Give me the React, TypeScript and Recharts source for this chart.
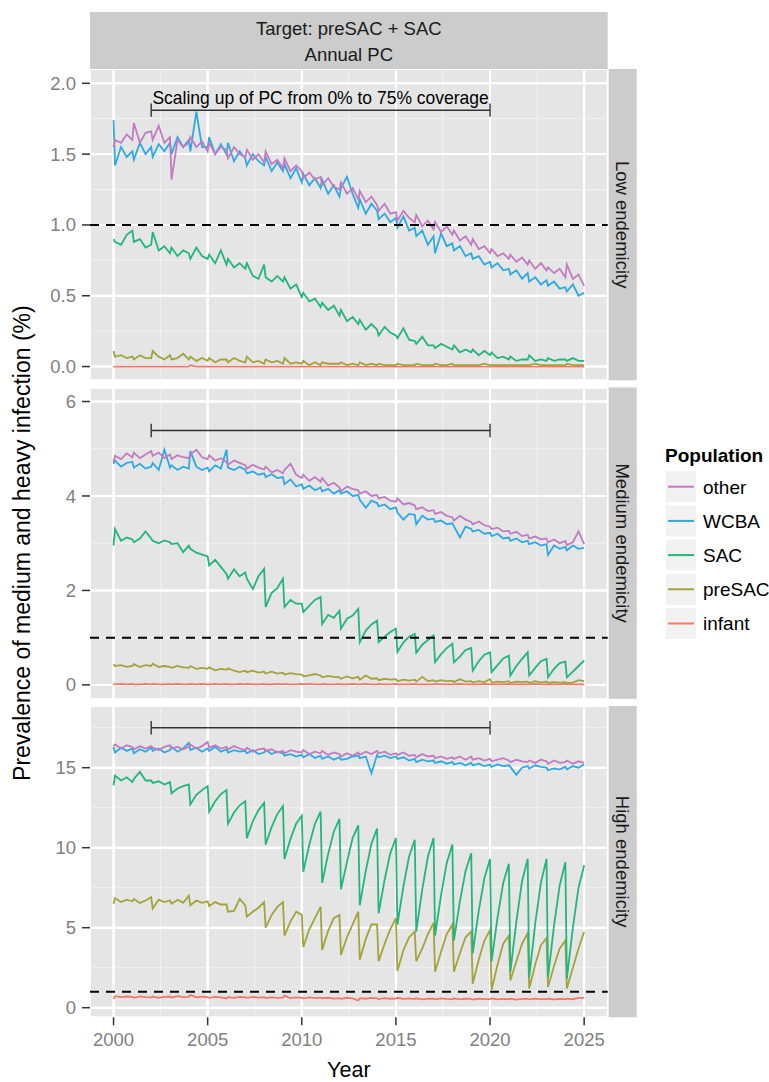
import { CartesianGrid, Line, LineChart, ReferenceLine, XAxis, YAxis } from 'recharts'

// sampling positions within each simulated year (PC round happens at the year boundary)
const YEARS = [
  2000, 2001, 2002, 2003, 2004, 2005, 2006, 2007, 2008, 2009, 2010, 2011, 2012,
  2013, 2014, 2015, 2016, 2017, 2018, 2019, 2020, 2021, 2022, 2023, 2024,
]
const OFFSETS = [0, 0.08, 0.4, 0.7]
const LAST_YEAR = 2025
const TIMES = [
  ...YEARS.flatMap((y) => OFFSETS.map((o) => Math.round((y + o) * 100) / 100)),
  LAST_YEAR,
]

const X_TICKS = [2000, 2005, 2010, 2015, 2020, 2025]
const X_MINOR = [2002.5, 2007.5, 2012.5, 2017.5, 2022.5]
const SCALE_UP = [2002, 2020]
const SCALE_UP_LABEL = 'Scaling up of PC from 0% to 75% coverage'
const THRESHOLD = 1

const POPULATIONS = ['other', 'WCBA', 'SAC', 'preSAC', 'infant']
const DRAW_ORDER = ['infant', 'preSAC', 'SAC', 'WCBA', 'other']
const COLORS: Record<string, string> = {
  other: '#C27BC0',
  WCBA: '#2DAAE1',
  SAC: '#22B67A',
  preSAC: '#A3A33B',
  infant: '#F5786D',
}

// ---- Low endemicity ----
const LOW_OTHER = [
  1.55, 1.6, 1.58, 1.64, 1.6, 1.72, 1.58, 1.65,
  1.66, 1.6, 1.7, 1.58, 1.62, 1.32, 1.6, 1.55,
  1.58, 1.62, 1.55, 1.59, 1.52, 1.58, 1.5, 1.55,
  1.53, 1.47, 1.55, 1.5, 1.48, 1.53, 1.46, 1.5,
  1.44, 1.52, 1.43, 1.46, 1.4, 1.47, 1.38, 1.42,
  1.38, 1.33, 1.37, 1.32, 1.34, 1.28, 1.33, 1.27,
  1.25, 1.3, 1.22, 1.26, 1.18, 1.24, 1.16, 1.2,
  1.14, 1.1, 1.15, 1.08, 1.09, 1.03, 1.1, 1.05,
  1.02, 1.07, 0.99, 1.03, 0.97, 1.02, 0.95, 0.99,
  0.93, 0.96, 0.89, 0.92, 0.86, 0.9, 0.83, 0.85,
  0.8, 0.83, 0.78, 0.8, 0.76, 0.79, 0.74, 0.77,
  0.72, 0.75, 0.69, 0.73, 0.68, 0.7, 0.66, 0.69,
  0.63, 0.72, 0.62, 0.65, 0.57,
]
const LOW_WCBA = [
  1.74, 1.42, 1.55, 1.48, 1.52, 1.46, 1.58, 1.5,
  1.55, 1.48, 1.57, 1.52, 1.58, 1.5, 1.62, 1.55,
  1.6, 1.52, 1.8, 1.55, 1.55, 1.62, 1.5, 1.57,
  1.5, 1.58, 1.45, 1.52, 1.47, 1.42, 1.5, 1.45,
  1.42, 1.48, 1.38, 1.44, 1.38, 1.43, 1.33, 1.4,
  1.3, 1.36, 1.28, 1.33, 1.26, 1.32, 1.22, 1.28,
  1.2, 1.26, 1.34, 1.22, 1.12, 1.18, 1.08, 1.15,
  1.1, 1.04, 1.08, 1.02, 1.05, 0.98, 1.06, 0.96,
  0.98, 0.92, 0.96, 0.86, 0.92, 0.8, 0.94, 0.85,
  0.87, 0.82, 0.85, 0.78, 0.8, 0.76, 0.78, 0.72,
  0.74, 0.7, 0.73, 0.68, 0.69, 0.65, 0.68, 0.62,
  0.66, 0.6, 0.63, 0.58, 0.61, 0.57, 0.6, 0.55,
  0.56, 0.53, 0.58, 0.5, 0.52,
]
const LOW_SAC = [
  0.9, 0.88, 0.86, 0.93, 0.96, 0.88, 0.9, 0.84,
  0.86, 0.95, 0.82, 0.85, 0.8, 0.84, 0.78, 0.82,
  0.8, 0.76, 0.84, 0.78, 0.76, 0.79, 0.73, 0.82,
  0.72, 0.76, 0.7, 0.73, 0.69, 0.73, 0.64, 0.62,
  0.72, 0.63, 0.6, 0.64, 0.6, 0.63, 0.55, 0.58,
  0.49, 0.52, 0.46, 0.48, 0.42, 0.45, 0.4, 0.43,
  0.36, 0.4, 0.32, 0.35, 0.3, 0.33, 0.26, 0.3,
  0.26, 0.22, 0.28, 0.24, 0.22, 0.2, 0.27, 0.19,
  0.18, 0.16, 0.21, 0.15, 0.15, 0.13, 0.16, 0.14,
  0.12, 0.15, 0.1, 0.12, 0.1, 0.12, 0.08, 0.11,
  0.08, 0.1, 0.06, 0.07, 0.05, 0.07, 0.04, 0.05,
  0.05, 0.08, 0.04, 0.05, 0.04, 0.06, 0.04, 0.05,
  0.05, 0.04, 0.06, 0.04, 0.04,
]
const LOW_PRESAC = [
  0.11, 0.07, 0.08, 0.06, 0.07, 0.05, 0.08, 0.06,
  0.06, 0.11, 0.07, 0.05, 0.08, 0.05, 0.06, 0.09,
  0.05, 0.07, 0.04, 0.06, 0.04, 0.06, 0.03, 0.05,
  0.05, 0.03, 0.06, 0.04, 0.03, 0.07, 0.03, 0.04,
  0.02, 0.05, 0.03, 0.04, 0.02, 0.06, 0.02, 0.03,
  0.02, 0.04, 0.01, 0.03, 0.01, 0.03, 0.02, 0.02,
  0.02, 0.03, 0.01, 0.02, 0.01, 0.03, 0.01, 0.02,
  0.01, 0.02, 0.01, 0.01, 0.01, 0.02, 0.01, 0.01,
  0.01, 0.02, 0.01, 0.01, 0.01, 0.02, 0.01, 0.01,
  0.02, 0.01, 0.01, 0.01, 0.01, 0.01, 0.01, 0.02,
  0.01, 0.01, 0.01, 0.01, 0.01, 0.01, 0.01, 0.01,
  0.01, 0.01, 0.02, 0.01, 0.01, 0.01, 0.01, 0.01,
  0.01, 0.02, 0.01, 0.01, 0.01,
]
const LOW_INFANT = [
  0, 0, 0, 0, 0, 0, 0, 0, 0, 0, 0, 0, 0, 0, 0, 0,
  0, 0.01, 0, 0, 0, 0, 0, 0, 0, 0, 0, 0, 0, 0, 0, 0,
  0, 0, 0, 0, 0, 0, 0, 0, 0, 0, 0, 0, 0, 0, 0, 0,
  0, 0, 0, 0, 0, 0, 0, 0, 0, 0, 0, 0, 0, 0, 0, 0,
  0, 0, 0, 0, 0, 0, 0, 0, 0, 0, 0, 0, 0, 0, 0, 0,
  0, 0, 0, 0, 0, 0, 0, 0, 0, 0, 0, 0, 0, 0, 0, 0,
  0, 0, 0, 0, 0,
]

// ---- Medium endemicity ----
const MED_OTHER = [
  4.72, 4.85, 4.78, 4.9, 4.82, 4.92, 4.8, 4.88,
  4.95, 4.85, 4.92, 4.8, 4.88, 4.78, 4.86, 4.82,
  4.8, 4.88, 4.98, 4.82, 4.78, 4.86, 4.75, 4.8,
  4.72, 4.66, 4.75, 4.7, 4.65, 4.58, 4.66, 4.6,
  4.56, 4.62, 4.5, 4.55, 4.48, 4.55, 4.68, 4.45,
  4.38, 4.45, 4.32, 4.4, 4.3, 4.38, 4.22, 4.28,
  4.18, 4.1, 4.2, 4.15, 4.12, 4.05, 4.1, 4.0,
  4.02, 3.95, 3.98, 3.9, 3.88, 3.95, 3.82, 3.85,
  3.8, 3.72, 3.76, 3.68, 3.7, 3.62, 3.66, 3.58,
  3.55, 3.48, 3.58, 3.5, 3.45, 3.4, 3.46, 3.38,
  3.35, 3.3, 3.33, 3.25, 3.26, 3.2, 3.24, 3.15,
  3.18, 3.1, 3.14, 3.08, 3.1, 3.02, 3.08, 3.0,
  3.05, 2.96, 3.02, 3.25, 2.98,
]
const MED_WCBA = [
  4.68, 4.75, 4.62, 4.7, 4.72, 4.6, 4.68, 4.58,
  4.62, 4.7, 4.55, 4.98, 4.6, 4.65, 4.55, 4.62,
  4.58, 4.95, 4.62, 4.55, 4.6, 4.52, 4.65, 4.58,
  4.98, 4.6, 4.55, 4.62, 4.55, 4.48, 4.52, 4.45,
  4.48, 4.4, 4.46, 4.38, 4.4, 4.25, 4.35, 4.2,
  4.25, 4.15, 4.22, 4.12, 4.18, 4.1, 4.15, 4.05,
  4.12, 4.05, 4.1, 4.0, 4.02, 3.92, 3.75, 3.9,
  3.85, 3.78, 3.82, 3.72, 3.76, 3.65, 3.5, 3.62,
  3.6, 3.4, 3.58, 3.5, 3.52, 3.45, 3.48, 3.4,
  3.42, 3.36, 3.12, 3.35, 3.3, 3.25, 3.28, 3.2,
  3.22, 3.15, 3.2, 3.1, 3.12, 3.05, 3.1, 3.02,
  3.05, 2.98, 3.02, 2.95, 2.98, 2.75, 2.95, 2.88,
  2.92, 2.85, 2.95, 2.88, 2.9,
]
const MED_SAC = [
  2.95, 3.3, 3.05, 3.12, 3.08, 3.02, 3.1, 3.25,
  3.1, 3.05, 3.0, 3.06, 3.02, 2.98, 3.0, 2.81,
  2.95, 2.88, 2.8, 2.76, 2.72, 2.53, 2.65, 2.5,
  2.35, 2.25, 2.45, 2.3, 2.38, 2.25, 2.03, 2.3,
  2.46, 1.65, 1.95, 2.05, 2.25, 1.65, 1.8, 1.72,
  1.72, 1.54, 1.68, 1.8, 1.86, 1.29, 1.48, 1.42,
  1.57, 1.19, 1.4, 1.47, 1.61, 0.9, 1.15, 1.28,
  1.36, 0.9, 1.02, 1.12, 1.19, 0.7, 0.9, 1.02,
  1.08, 0.68, 0.85, 0.95, 1.05, 0.48, 0.65, 0.78,
  0.87, 0.48, 0.6, 0.74, 0.78, 0.3, 0.5, 0.64,
  0.69, 0.27, 0.42, 0.56, 0.62, 0.2, 0.4, 0.55,
  0.69, 0.2, 0.36, 0.5, 0.55, 0.16, 0.34, 0.46,
  0.49, 0.16, 0.28, 0.4, 0.52,
]
const MED_PRESAC = [
  0.44, 0.4, 0.42, 0.38, 0.4, 0.44, 0.38, 0.42,
  0.4, 0.45, 0.38, 0.4, 0.38, 0.36, 0.4, 0.37,
  0.36, 0.4, 0.34, 0.36, 0.34, 0.37, 0.31, 0.34,
  0.32, 0.35, 0.3, 0.27, 0.3, 0.27, 0.3, 0.26,
  0.28, 0.24, 0.28, 0.24, 0.26, 0.22, 0.25, 0.23,
  0.22, 0.18, 0.2, 0.23, 0.2, 0.16, 0.19, 0.17,
  0.16, 0.13, 0.18, 0.14, 0.17, 0.11, 0.2, 0.13,
  0.14, 0.1, 0.13, 0.11, 0.12, 0.08, 0.11, 0.09,
  0.11, 0.07, 0.17, 0.08, 0.1, 0.07, 0.1, 0.08,
  0.09, 0.06, 0.12, 0.07, 0.08, 0.05, 0.08, 0.06,
  0.12, 0.05, 0.07, 0.06, 0.08, 0.04, 0.07, 0.06,
  0.07, 0.04, 0.08, 0.05, 0.07, 0.04, 0.06, 0.05,
  0.06, 0.04, 0.05, 0.1, 0.08,
]
const MED_INFANT = [
  0.02, 0.01, 0.02, 0.01, 0.02, 0.01, 0.01, 0.02,
  0.01, 0.02, 0.01, 0.01, 0.02, 0.01, 0.02, 0.01,
  0.01, 0.02, 0.01, 0.02, 0.01, 0.01, 0.02, 0.01,
  0.02, 0.01, 0.01, 0.02, 0.01, 0.02, 0.01, 0.01,
  0.02, 0.01, 0.01, 0.02, 0.01, 0.02, 0.01, 0.01,
  0.02, 0.01, 0.02, 0.01, 0.01, 0.02, 0.01, 0.01,
  0.02, 0.01, 0.01, 0.02, 0.01, 0.01, 0.02, 0.01,
  0.01, 0.02, 0.01, 0.01, 0.02, 0.01, 0.01, 0.01,
  0.02, 0.01, 0.01, 0.01, 0.01, 0.02, 0.01, 0.01,
  0.01, 0.01, 0.02, 0.01, 0.01, 0.01, 0.01, 0.02,
  0.01, 0.01, 0.01, 0.01, 0.02, 0.01, 0.01, 0.01,
  0.01, 0.01, 0.02, 0.01, 0.01, 0.01, 0.01, 0.01,
  0.02, 0.01, 0.01, 0.01, 0.01,
]

// ---- High endemicity ----
const HIGH_OTHER = [
  16.35, 16.45, 16.2, 16.4, 16.3, 16.15, 16.35, 16.2,
  16.35, 16.25, 16.1, 16.3, 16.4, 16.2, 16.3, 16.15,
  16.3, 16.45, 16.2, 16.35, 16.6, 16.25, 16.4, 16.2,
  16.3, 16.15, 16.35, 16.2, 16.1, 16.25, 16.0, 16.15,
  16.2, 16.05, 16.15, 15.95, 16.05, 15.9, 16.1, 16.0,
  15.95, 16.1, 15.85, 16.0, 15.9, 16.05, 15.8, 15.95,
  15.85, 15.7, 15.9, 15.75, 15.95, 15.8, 16.0, 15.85,
  16.05, 15.9, 16.0, 15.8, 15.9, 15.8, 15.95, 15.75,
  15.8, 15.65, 15.85, 15.7, 15.75, 15.6, 15.7, 15.55,
  15.65, 15.55, 15.7, 15.5, 15.7, 15.5, 15.6, 15.45,
  15.55, 15.4, 15.5, 15.6, 15.45, 15.35, 15.5, 15.4,
  15.35, 15.45, 15.3, 15.5, 15.4, 15.25, 15.45, 15.3,
  15.35, 15.45, 15.25, 15.4, 15.3,
]
const HIGH_WCBA = [
  16.3, 15.95, 16.25, 16.05, 16.2, 15.9, 16.15, 16.0,
  16.25, 16.05, 16.2, 15.95, 16.1, 16.3, 16.0, 16.2,
  16.55, 16.1, 16.25, 16.0, 16.2, 16.05, 16.3, 16.0,
  16.15, 15.95, 16.1, 16.0, 16.05, 15.9, 16.1, 15.85,
  15.95, 16.1, 15.85, 16.0, 15.9, 15.75, 15.85, 15.7,
  15.8, 15.65, 15.85, 15.6, 15.75, 15.55, 15.7, 15.5,
  15.65, 15.5, 15.55, 15.7, 15.75, 15.6, 15.7, 14.65,
  15.8, 15.65, 15.75, 15.6, 15.7, 15.55, 15.65, 15.45,
  15.55, 15.35, 15.5, 15.4, 15.45, 15.3, 15.4, 15.25,
  15.35, 15.2, 15.3, 15.15, 15.3, 15.15, 15.25, 15.1,
  15.2, 15.05, 15.2, 15.1, 15.15, 15.05, 14.55, 15.0,
  15.1, 14.95, 15.15, 15.05, 15.0, 14.85, 14.95, 14.9,
  15.05, 14.9, 15.1, 15.0, 15.2,
]
const HIGH_SAC = [
  13.9, 14.5, 14.2, 14.4, 14.1, 14.3, 14.75, 14.2,
  14.2, 14.05, 14.15, 13.95, 14.1, 13.4, 13.7, 13.85,
  13.95, 12.7, 13.3, 13.6, 13.85, 12.25, 12.9, 13.35,
  13.6, 11.5, 12.2, 12.65, 12.9, 10.6, 11.65, 12.35,
  12.8, 10.2, 11.3, 12.1, 12.6, 9.3, 10.55, 11.5,
  12.0, 8.5, 10.2, 11.5, 12.25, 7.8, 9.6, 11.0,
  11.8, 7.4, 9.1, 10.6, 11.4, 6.4, 8.55, 10.25,
  11.2, 5.9, 8.0, 9.65, 10.6, 5.2, 7.6, 9.45,
  10.5, 4.75, 7.4, 9.45, 10.6, 4.5, 7.05, 9.05,
  10.2, 4.2, 6.65, 8.55, 9.65, 3.4, 6.05, 8.1,
  9.3, 2.9, 5.65, 7.8, 9.0, 2.25, 5.4, 7.9,
  9.3, 1.9, 5.25, 7.8, 9.3, 1.9, 5.15, 7.65,
  9.1, 1.8, 5.0, 7.5, 8.9,
]
const HIGH_PRESAC = [
  6.5, 6.85, 6.6, 6.75, 6.65, 6.8, 6.55, 6.7,
  6.9, 6.2, 6.75, 6.6, 6.7, 6.5, 6.75, 6.55,
  7.0, 6.4, 6.7, 6.55, 6.65, 6.35, 6.6, 6.45,
  6.45, 6.0, 6.05, 6.8, 6.4, 5.7, 6.0, 6.25,
  6.6, 5.0, 5.8, 6.3, 6.6, 4.5, 5.4, 6.0,
  5.8, 3.8, 4.9, 5.6, 6.3, 3.6, 4.8, 5.6,
  5.8, 3.3, 4.4, 5.2, 6.0, 3.0, 4.3, 5.2,
  5.2, 2.9, 4.0, 4.9, 5.6, 2.3, 3.6, 4.4,
  4.75, 2.9, 3.7, 4.6, 5.3, 2.25, 3.5, 4.6,
  5.2, 2.25, 3.4, 4.4, 4.75, 1.5, 3.0, 4.2,
  4.85, 1.1, 2.7, 4.0, 4.5, 1.7, 2.9, 4.0,
  4.65, 1.2, 2.7, 3.9, 4.35, 1.3, 2.6, 3.7,
  4.2, 1.2, 2.5, 3.7, 4.75,
]
const HIGH_INFANT = [
  0.55, 0.72, 0.66, 0.7, 0.68, 0.62, 0.71, 0.66,
  0.64, 0.7, 0.62, 0.68, 0.7, 0.64, 0.72, 0.66,
  0.68, 0.8, 0.65, 0.69, 0.66, 0.62, 0.68, 0.64,
  0.58, 0.66, 0.62, 0.67, 0.65, 0.61, 0.68, 0.63,
  0.66, 0.6, 0.64, 0.62, 0.63, 0.75, 0.6, 0.65,
  0.62, 0.58, 0.64, 0.6, 0.63, 0.59, 0.62, 0.57,
  0.6, 0.55, 0.62, 0.58, 0.45, 0.6, 0.56, 0.61,
  0.58, 0.54, 0.6, 0.56, 0.57, 0.62, 0.55, 0.58,
  0.54, 0.59, 0.52, 0.57, 0.56, 0.52, 0.58, 0.55,
  0.53, 0.58, 0.52, 0.56, 0.55, 0.51, 0.57, 0.53,
  0.54, 0.58, 0.52, 0.55, 0.53, 0.56, 0.51, 0.55,
  0.55, 0.52, 0.57, 0.54, 0.53, 0.56, 0.52, 0.55,
  0.54, 0.57, 0.53, 0.62, 0.62,
]

// ---- layout (pixels) ----
const FONT = '"Liberation Sans", Arial, Helvetica, sans-serif'
const PLOT_LEFT = 90
const PLOT_RIGHT = 607.7
const PANEL_H = 311.3
const STRIP_W = 29

type Panel = {
  label: string
  top: number
  domain: [number, number]
  ticks: number[]
  minor: number[]
  digits: number
  barY: number
  cap: number
  series: Record<string, number[]>
}

const PANELS: Panel[] = [
  {
    label: 'Low endemicity',
    top: 69,
    domain: [-0.097, 2.101],
    ticks: [0, 0.5, 1, 1.5, 2],
    minor: [0.25, 0.75, 1.25, 1.75],
    digits: 1,
    barY: 1.81,
    cap: 0.047,
    series: { other: LOW_OTHER, WCBA: LOW_WCBA, SAC: LOW_SAC, preSAC: LOW_PRESAC, infant: LOW_INFANT },
  },
  {
    label: 'Medium endemicity',
    top: 387.5,
    domain: [-0.305, 6.286],
    ticks: [0, 2, 4, 6],
    minor: [1, 3, 5],
    digits: 0,
    barY: 5.385,
    cap: 0.142,
    series: { other: MED_OTHER, WCBA: MED_WCBA, SAC: MED_SAC, preSAC: MED_PRESAC, infant: MED_INFANT },
  },
  {
    label: 'High endemicity',
    top: 706,
    domain: [-0.6, 18.856],
    ticks: [0, 5, 10, 15],
    minor: [2.5, 7.5, 12.5, 17.5],
    digits: 0,
    barY: 17.5,
    cap: 0.42,
    series: { other: HIGH_OTHER, WCBA: HIGH_WCBA, SAC: HIGH_SAC, preSAC: HIGH_PRESAC, infant: HIGH_INFANT },
  },
]

const tickStyle = { fill: '#7F7F7F', fontSize: 18.5, fontFamily: FONT }

function PanelChart({ panel, showX, note }: { panel: Panel; showX: boolean; note: boolean }) {
  const rows = TIMES.map((t, i) => {
    const row: Record<string, number> = { t }
    POPULATIONS.forEach((p) => {
      row[p] = panel.series[p][i]
    })
    return row
  })
  const [x0, x1] = SCALE_UP

  return (
    <div style={{ position: 'absolute', left: 0, top: panel.top }}>
      <LineChart
        width={769}
        height={PANEL_H + (showX ? 58 : 0)}
        data={rows}
        margin={{ top: 0, right: 769 - PLOT_RIGHT, bottom: 0, left: 0 }}
      >
        <CartesianGrid fill="#E5E5E5" stroke="#FFFFFF" strokeWidth={2} />
        {X_MINOR.map((x) => (
          <ReferenceLine key={`xm${x}`} x={x} stroke="#F2F2F2" strokeWidth={1} zIndex={-90} />
        ))}
        {panel.minor.map((y) => (
          <ReferenceLine key={`ym${y}`} y={y} stroke="#F2F2F2" strokeWidth={1} zIndex={-90} />
        ))}
        {X_TICKS.map((x) => (
          <ReferenceLine key={`xM${x}`} x={x} stroke="#FFFFFF" strokeWidth={2} zIndex={-80} />
        ))}
        {panel.ticks.map((y) => (
          <ReferenceLine key={`yM${y}`} y={y} stroke="#FFFFFF" strokeWidth={2} zIndex={-80} />
        ))}
        <XAxis
          type="number"
          dataKey="t"
          scale="linear"
          domain={[1998.75, 2026.25]}
          allowDataOverflow
          ticks={X_TICKS}
          interval={0}
          hide={!showX}
          height={58}
          axisLine={false}
          tickLine={{ stroke: '#333333', strokeWidth: 1.5 }}
          tickSize={8}
          tickMargin={8}
          tick={tickStyle}
        />
        <YAxis
          type="number"
          scale="linear"
          domain={panel.domain}
          allowDataOverflow
          ticks={panel.ticks}
          interval={0}
          width={PLOT_LEFT}
          axisLine={false}
          tickLine={{ stroke: '#333333', strokeWidth: 1.5 }}
          tickSize={8}
          tickMargin={6}
          tick={tickStyle}
          tickFormatter={(v: number) => v.toFixed(panel.digits)}
        />
        {DRAW_ORDER.map((p) => (
          <Line
            key={p}
            type="linear"
            dataKey={p}
            stroke={COLORS[p]}
            strokeWidth={1.8}
            dot={false}
            activeDot={false}
            isAnimationActive={false}
          />
        ))}
        <ReferenceLine y={THRESHOLD} stroke="#000000" strokeWidth={2} strokeDasharray="9 7" />
        <ReferenceLine
          segment={[
            { x: x0, y: panel.barY },
            { x: x1, y: panel.barY },
          ]}
          stroke="#333333"
          strokeWidth={1.4}
          label={
            note
              ? {
                  value: SCALE_UP_LABEL,
                  position: 'top',
                  offset: 6,
                  fill: '#000000',
                  fontSize: 17.5,
                  fontFamily: FONT,
                }
              : undefined
          }
        />
        {SCALE_UP.map((x) => (
          <ReferenceLine
            key={`cap${x}`}
            segment={[
              { x, y: panel.barY - panel.cap },
              { x, y: panel.barY + panel.cap },
            ]}
            stroke="#333333"
            strokeWidth={1.4}
          />
        ))}
      </LineChart>
    </div>
  )
}

function Overlay() {
  const legendTop = 470.7
  const rowStep = 34.2
  return (
    <svg
      width={769}
      height={1082}
      style={{ position: 'absolute', left: 0, top: 0 }}
      fontFamily={FONT}
    >
      <rect x={PLOT_LEFT} y={12} width={PLOT_RIGHT - PLOT_LEFT} height={57} fill="#CCCCCC" />
      <text x={(PLOT_LEFT + PLOT_RIGHT) / 2} y={34.5} textAnchor="middle" fontSize={18.5} fill="#1A1A1A">
        Target: preSAC + SAC
      </text>
      <text x={(PLOT_LEFT + PLOT_RIGHT) / 2} y={61} textAnchor="middle" fontSize={18.5} fill="#1A1A1A">
        Annual PC
      </text>
      {PANELS.map((p) => (
        <g key={p.label}>
          <rect x={PLOT_RIGHT} y={p.top} width={STRIP_W} height={PANEL_H} fill="#CCCCCC" />
          <text
            transform={`translate(${PLOT_RIGHT + STRIP_W / 2 - 6.6}, ${p.top + PANEL_H / 2}) rotate(90)`}
            textAnchor="middle"
            fontSize={18.5}
            fill="#1A1A1A"
          >
            {p.label}
          </text>
        </g>
      ))}
      <text
        transform={`translate(30, ${(69 + 1017.3) / 2}) rotate(-90)`}
        textAnchor="middle"
        fontSize={23}
        fill="#000000"
      >
        Prevalence of medium and heavy infection (%)
      </text>
      <text x={(PLOT_LEFT + PLOT_RIGHT) / 2} y={1076.5} textAnchor="middle" fontSize={21.5} fill="#000000">
        Year
      </text>
      <text x={665} y={461.7} fontSize={19} fontWeight="bold" fill="#000000">
        Population
      </text>
      {POPULATIONS.map((p, i) => {
        const y = legendTop + i * rowStep
        return (
          <g key={p}>
            <rect x={665.5} y={y} width={31} height={32} fill="#F2F2F2" stroke="#FFFFFF" strokeWidth={1} />
            <line x1={668} x2={694} y1={y + 16} y2={y + 16} stroke={COLORS[p]} strokeWidth={2} />
            <text x={703} y={y + 22.8} fontSize={19} fill="#000000">
              {p}
            </text>
          </g>
        )
      })}
    </svg>
  )
}

export default function App() {
  return (
    <div
      style={{
        position: 'absolute',
        left: 0,
        top: 0,
        width: 769,
        height: 1082,
        background: '#FFFFFF',
        fontFamily: FONT,
      }}
    >
      <Overlay />
      {PANELS.map((p, i) => (
        <PanelChart key={p.label} panel={p} showX={i === PANELS.length - 1} note={i === 0} />
      ))}
    </div>
  )
}
